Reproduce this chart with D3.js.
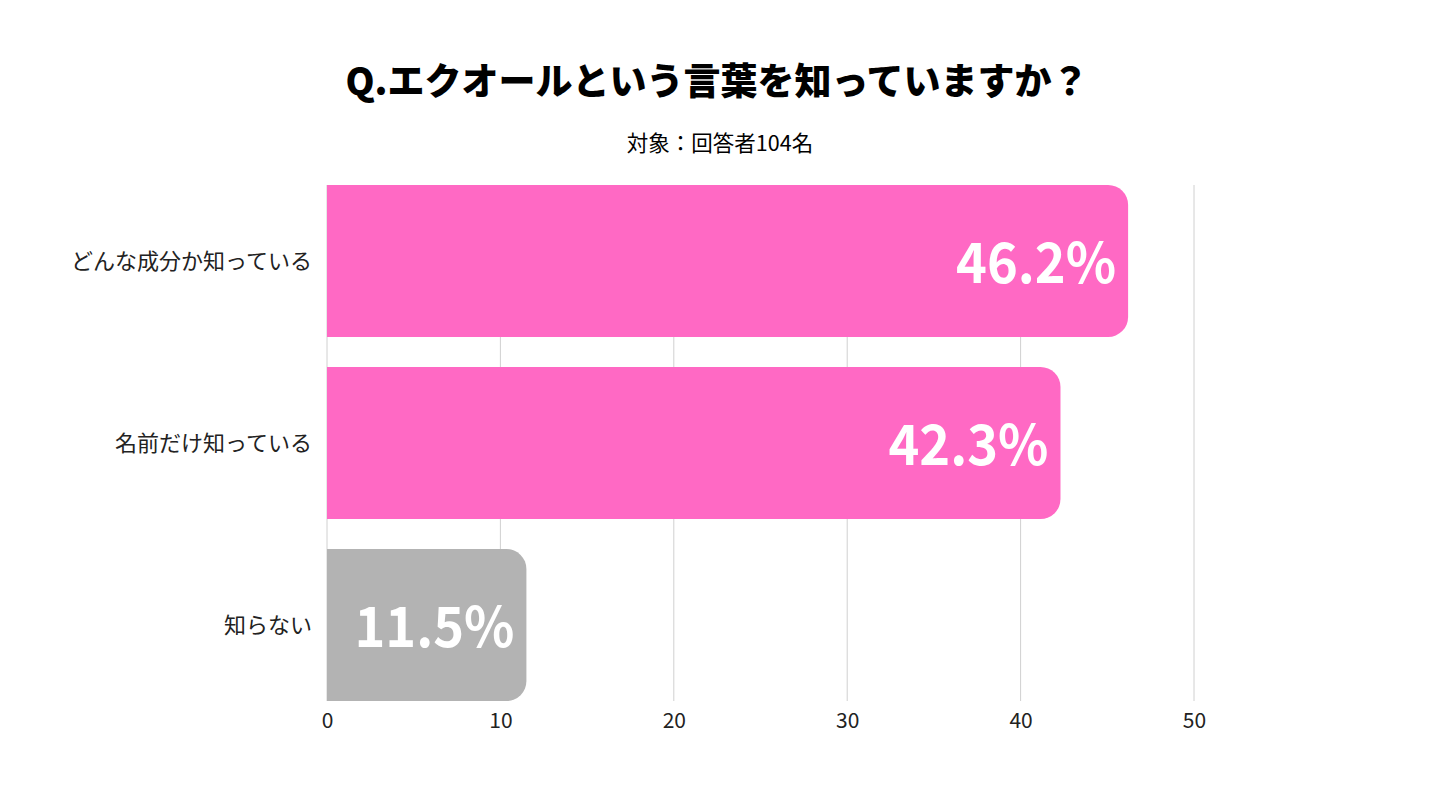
<!DOCTYPE html>
<html><head><meta charset="utf-8">
<script src="https://cdn.jsdelivr.net/npm/d3@7"></script>
<style>
html,body{margin:0;padding:0;background:#fff;}
svg{display:block;}
</style></head>
<body>
<svg id="chart" width="1440" height="800"></svg>
<script>
const categories = ["どんな成分か知っている", "名前だけ知っている", "知らない"];
const values = [46.2, 42.3, 11.5];
const barColors = ["#FF69C4", "#FF69C4", "#B3B3B3"];
const ticks = [0, 10, 20, 30, 40, 50];
const title = "Q.エクオールという言葉を知っていますか？";
const subtitle = "対象：回答者104名";

(function () {
const svg = d3.select("#chart");
const font = "'Noto Sans CJK JP','Noto Sans',sans-serif";
const plotLeft = 327, plotRight = 1194, plotTop = 185, plotBottom = 701;

const x = d3.scaleLinear().domain([0, 50]).range([plotLeft, plotRight]);
const y = d3.scaleBand().domain(categories).range([plotTop, plotBottom]).paddingInner(0.165).paddingOuter(0);

svg.append("text").attr("x", 717).attr("y", 95).attr("text-anchor", "middle")
  .attr("font-family", font).attr("font-weight", 900).attr("font-size", 37).attr("fill", "#000")
  .text(title);
svg.append("text").attr("x", 720).attr("y", 151).attr("text-anchor", "middle")
  .attr("font-family", font).attr("font-size", 21.5).attr("fill", "#000")
  .text(subtitle);

// gridlines
svg.append("g").selectAll("line").data(ticks).join("line")
  .attr("x1", d => x(d)).attr("x2", d => x(d))
  .attr("y1", plotTop).attr("y2", plotBottom)
  .attr("stroke", "#d0d0d0").attr("stroke-width", 1);

// bars with rounded right corners
const r = 20;
function barPath(x0, x1, y0, h) {
  const rr = Math.min(r, (x1 - x0), h / 2);
  return `M${x0},${y0}H${x1 - rr}A${rr},${rr} 0 0 1 ${x1},${y0 + rr}V${y0 + h - rr}A${rr},${rr} 0 0 1 ${x1 - rr},${y0 + h}H${x0}Z`;
}
svg.append("g").selectAll("path").data(values).join("path")
  .attr("d", (d, i) => barPath(x(0), x(d), y(categories[i]), y.bandwidth()))
  .attr("fill", (d, i) => barColors[i]);

// value labels
svg.append("g").selectAll("text").data(values).join("text")
  .attr("x", d => x(d) - 12)
  .attr("y", (d, i) => y(categories[i]) + y.bandwidth() / 2 + 22)
  .attr("text-anchor", "end")
  .attr("font-family", font).attr("font-weight", 700).attr("font-size", 56)
  .attr("fill", "#fff")
  .attr("textLength", 160).attr("lengthAdjust", "spacingAndGlyphs")
  .text(d => d.toFixed(1) + "%");

// category labels
svg.append("g").selectAll("text").data(categories).join("text")
  .attr("x", 312)
  .attr("y", d => y(d) + y.bandwidth() / 2 + 8)
  .attr("text-anchor", "end")
  .attr("font-family", font).attr("font-size", 22).attr("fill", "#222")
  .text(d => d);

// x axis
const axis = d3.axisBottom(x).tickValues(ticks).tickSize(0).tickPadding(12);
const ag = svg.append("g").attr("transform", `translate(0,${plotBottom})`).call(axis);
ag.select(".domain").remove();
ag.selectAll("text").attr("font-family", font).attr("font-size", 21).attr("fill", "#222");
})();
</script>
</body></html>
